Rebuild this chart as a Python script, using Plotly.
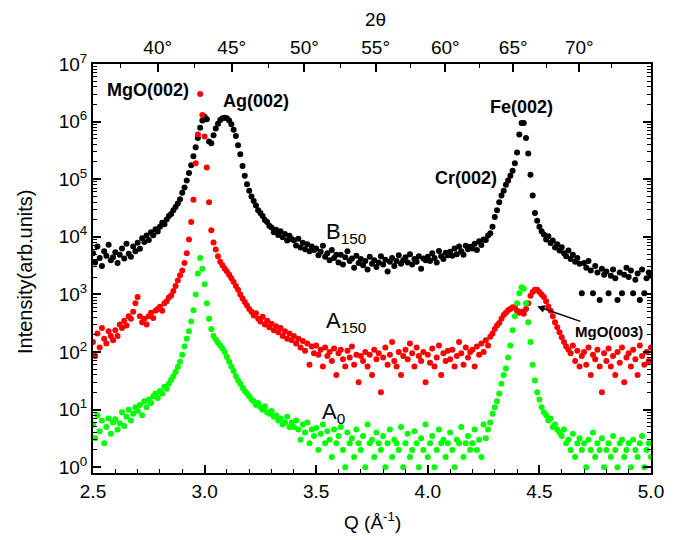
import numpy as np
import plotly.graph_objects as go

# Q grid (A^-1), step 0.01
q = np.round(np.linspace(2.5, 5.0, 251), 3)

# B150 intensities (black)
b150 = [
    5200, 3600, 6800, 4300, 3100, 5600, 4700, 7300, 3900, 4400,
    5400, 3500, 4900, 6300, 4200, 7600, 5100, 4500, 6800, 5600,
    7900, 6200, 9400, 8100, 10500, 8800, 12000, 10600, 13500, 12400,
    15000, 17500, 16500, 20000, 23000, 25000, 29000, 33000, 38000, 45000,
    58000, 72000, 95000, 128000, 175000, 250000, 360000, 520000, 780000, 1050000,
    1220000, 1100000, 450000, 420000, 580000, 760000, 920000, 1070000, 1140000, 1170000,
    1140000, 1050000, 900000, 720000, 560000, 390000, 270000, 170000, 115000, 82000,
    63000, 50000, 42000, 35000, 29000, 26000, 23000, 19500, 18000, 15500,
    14500, 12000, 13200, 10800, 12500, 9800, 11200, 8600, 10400, 9200,
    8700, 7100, 9300, 6500, 7900, 6100, 7400, 5600, 6800, 5900,
    6300, 4800, 5500, 7000, 4500, 5200, 3900, 5900, 4300, 4900,
    3600, 4900, 3300, 4400, 5600, 3800, 4200, 2900, 4700, 3500,
    4100, 3200, 3800, 2700, 4500, 3400, 3900, 3000, 3600, 4600,
    3300, 4000, 2500, 3700, 4300, 3100, 3800, 4800, 3400, 3900,
    4400, 3600, 5000, 3300, 4100, 3700, 4600, 2800, 4200, 3900,
    4500, 3800, 5200, 4300, 3600, 5700, 4600, 4100, 5300, 4800,
    5500, 4700, 6300, 5000, 6800, 5600, 4900, 7000, 6100, 6700,
    6300, 7600, 5900, 8400, 7200, 9000, 8800, 10500, 11500, 15000,
    22000, 29000, 40000, 52000, 63000, 80000, 95000, 115000, 140000, 190000,
    290000, 600000, 950000, 950000, 520000, 280000, 120000, 52000, 26000, 19000,
    15000, 12500, 11000, 9000, 10200, 7800, 8600, 6500, 7400, 5800,
    6600, 5200, 4600, 5800, 4100, 4900, 3700, 4300, 3400, 1050,
    3500, 2900, 3800, 2600, 1050, 3100, 2400, 800, 2800, 2200,
    2500, 1050, 2100, 2700, 1900, 800, 2400, 1050, 2200, 2900,
    2000, 2600, 1050, 1800, 2300, 800, 2700, 1050, 1900, 2400, 2100,
]

# A150 intensities (red)
a150 = [
    150, 85, 210, 120, 260, 170, 140, 230, 190, 160,
    240, 190, 300, 260, 350, 290, 420, 380, 500, 700,
    900, 420, 330, 380, 300, 420, 480, 390, 520, 560,
    610, 520, 700, 760, 880, 960, 1150, 1400, 1750, 2150,
    2600, 3500, 5200, 9000, 18000, 44000, 190000, 600000, 3000000, 1300000,
    550000, 160000, 40000, 13000, 8000, 6000, 4600, 3700, 3200, 2800,
    2500, 2200, 1900, 1650, 1400, 1200, 1000, 850, 740, 640,
    560, 500, 430, 470, 380, 340, 410, 300, 350, 270,
    310, 240, 280, 220, 260, 190, 230, 170, 210, 160,
    190, 140, 170, 120, 155, 105, 140, 60, 125, 95,
    130, 90, 110, 56, 120, 85, 100, 70, 115, 40,
    95, 110, 75, 56, 105, 80, 125, 60, 90, 30,
    85, 70, 100, 56, 90, 40, 110, 75, 95, 20,
    80, 120, 60, 90, 150, 70, 56, 100, 40, 85,
    110, 75, 140, 95, 56, 120, 85, 70, 100, 30,
    90, 65, 115, 56, 80, 130, 40, 95, 70, 105,
    75, 110, 56, 85, 150, 95, 60, 120, 80, 100,
    110, 56, 125, 90, 140, 100, 160, 130, 185, 210,
    250, 290, 320, 380, 440, 480, 530, 560, 600, 590,
    520, 480, 500, 460, 560, 700, 950, 1100, 1200, 1200,
    1100, 1000, 900, 760, 620, 520, 420, 330, 270, 220,
    180, 150, 125, 110, 95, 130, 70, 105, 56, 85,
    100, 60, 120, 40, 90, 75, 110, 56, 20, 95,
    70, 115, 56, 85, 40, 100, 65, 120, 30, 80,
    95, 56, 110, 75, 40, 130, 85, 60, 100, 70, 120,
]

# A0 intensities (green)
a0 = [
    5.5, 3.2, 8.0, 4.2, 6.5, 2.6, 5.0, 7.0, 3.8, 6.0,
    6.8, 4.5, 5.8, 9.0, 5.2, 7.5, 10, 6.5, 8.5, 11,
    9.5, 12, 8.0, 14, 11, 15, 13, 17, 19, 16,
    21, 19, 25, 23, 28, 33, 38, 45, 55, 68,
    90, 125, 170, 230, 340, 530, 1000, 2300, 4300, 2800,
    1500, 700, 380, 250, 190, 165, 145, 130, 115, 100,
    82, 68, 56, 47, 38, 32, 28, 24, 21, 19,
    17, 15, 14, 12, 13, 11, 10, 11.5, 9, 8.5,
    9.5, 7.5, 8.0, 6.5, 7.0, 5.5, 6.0, 7.5, 5.0, 6.0,
    5.0, 6.5, 4.5, 3.0, 5.5, 4.0, 6.0, 2.6, 4.5, 3.5,
    4.8, 2.0, 3.8, 5.5, 2.6, 4.2, 3.0, 1.5, 4.5, 2.6,
    3.5, 5.0, 2.0, 1.0, 4.0, 2.6, 3.2, 1.5, 4.5, 2.6,
    2.0, 3.5, 1.0, 5.5, 2.6, 3.0, 1.5, 4.0, 2.6, 2.0,
    3.5, 1.0, 2.6, 4.5, 1.5, 3.0, 2.6, 2.0, 5.0, 1.0,
    2.6, 3.8, 1.5, 2.0, 4.2, 2.6, 1.0, 3.2, 2.0, 5.5,
    1.5, 2.6, 3.5, 1.0, 2.0, 4.5, 2.6, 3.0, 1.5, 2.6,
    4.0, 2.0, 1.0, 3.0, 2.6, 5.0, 1.5, 2.6, 3.5, 2.0,
    2.6, 4.5, 2.0, 3.0, 1.5, 5.5, 3.2, 4.5, 6.0, 8.5,
    11, 14, 19, 28, 40, 52, 80, 130, 240, 420,
    700, 1050, 1330, 1250, 700, 330, 150, 60, 32, 20,
    15, 11, 9.0, 8.0, 6.5, 7.0, 5.0, 5.5, 4.5, 4.0,
    3.5, 4.5, 2.6, 3.0, 2.0, 3.8, 1.5, 2.6, 3.2, 2.0,
    2.6, 1.0, 3.0, 2.0, 4.0, 1.5, 2.6, 2.0, 3.2, 1.0,
    2.0, 2.6, 1.5, 3.5, 2.0, 1.0, 2.6, 3.0, 1.5, 2.0,
    2.6, 1.0, 3.0, 2.0, 1.5, 2.6, 3.5, 1.0, 2.0, 2.6, 1.5,
]

# y axis decades and labels
decades = [0, 1, 2, 3, 4, 5, 6, 7]
decade_labels = ["10<sup>%d</sup>" % d for d in decades]

# top axis: 2-theta (Cu K-alpha)
two_theta_major = [40, 45, 50, 55, 60, 65, 70]
two_theta_labels = ["40°", "45°", "50°", "55°", "60°", "65°", "70°"]
two_theta_minor = [37.5, 42.5, 47.5, 52.5, 57.5, 62.5, 67.5, 72.5]
wavelength = 1.5406


def q_of(tt):
    return [4 * np.pi * np.sin(np.radians(t / 2.0)) / wavelength for t in tt]


FONT = "Liberation Sans, Arial, sans-serif"

fig = go.Figure()
fig.add_trace(go.Scatter(x=q, y=b150, mode="markers", marker=dict(color="#000000", size=6), showlegend=False))
fig.add_trace(go.Scatter(x=q, y=a150, mode="markers", marker=dict(color="#ff0000", size=6), showlegend=False))
fig.add_trace(go.Scatter(x=q, y=a0, mode="markers", marker=dict(color="#00ff00", size=6), showlegend=False,
                         xaxis="x2", yaxis="y"))

axis_common = dict(showgrid=False, zeroline=False, showline=True, linecolor="black", linewidth=2,
                   ticks="inside", tickcolor="black", tickwidth=1.5, ticklen=8,
                   tickfont=dict(family=FONT, size=19, color="black"))

minor_y = [m * 10 ** d for d in decades[:-1] for m in range(2, 10)]

# page body has an 8px margin: size the figure so the plot frame lands at x 93-651, y 64-473
fig.update_layout(
    width=677, height=532,
    margin=dict(l=85, r=34, t=56, b=67),
    plot_bgcolor="white", paper_bgcolor="white",
    showlegend=False,
    font=dict(family=FONT, color="black"),
    xaxis=dict(range=[2.5, 5.0], tick0=2.5, dtick=0.5, tickformat=".1f",
               minor=dict(dtick=0.1, ticks="inside", ticklen=4, tickcolor="black", tickwidth=1.2, showgrid=False),
               **axis_common),
    xaxis2=dict(range=[2.5, 5.0], overlaying="x", side="top", tickmode="array",
                tickvals=q_of(two_theta_major), ticktext=two_theta_labels,
                minor=dict(tickmode="array", tickvals=q_of(two_theta_minor), ticks="inside",
                           ticklen=4, tickcolor="black", tickwidth=1.2, showgrid=False),
                **axis_common),
    yaxis=dict(type="log", range=[-0.1, 7], tickmode="array",
               tickvals=[10 ** d for d in decades], ticktext=decade_labels, mirror="ticks",
               minor=dict(tickmode="array", tickvals=minor_y, ticks="inside", ticklen=4,
                          tickcolor="black", tickwidth=1.2, showgrid=False),
               **axis_common),
)


def pxx(px):
    return (px - 93) / 558.0


def pxy(py):
    return (473 - py) / 409.0


def lab(text, x, y, size=18, bold=True):
    fig.add_annotation(text=("<b>%s</b>" % text) if bold else text, xref="paper", yref="paper",
                       x=pxx(x), y=pxy(y), showarrow=False, xanchor="center", yanchor="middle",
                       font=dict(family=FONT, size=size, color="black"))


lab("MgO(002)", 148, 90)
lab("Ag(002)", 256, 101)
lab("Fe(002)", 521, 107)
lab("Cr(002)", 466, 178)
lab("B<sub>150</sub>", 346, 233, size=22, bold=False)
lab("A<sub>150</sub>", 346, 322, size=22, bold=False)
lab("A<sub>0</sub>", 333, 413, size=22, bold=False)
lab("2θ", 375, 20, size=19, bold=False)
lab("Q (Å<sup>-1</sup>)", 372, 521, size=19, bold=False)

fig.add_annotation(text="Intensity(arb.units)", xref="paper", yref="paper", x=pxx(25), y=pxy(272),
                   textangle=-90, showarrow=False, xanchor="center", yanchor="middle",
                   font=dict(family=FONT, size=20, color="black"))

# MgO(003) label with arrow
fig.add_annotation(text="<b>MgO(003)</b>", x=4.49, y=np.log10(620), xref="x", yref="y",
                   ax=72, ay=25, showarrow=True, arrowhead=2, arrowsize=1, arrowwidth=1.5,
                   arrowcolor="black", font=dict(family=FONT, size=15, color="black"))

fig.write_html("out.html")
